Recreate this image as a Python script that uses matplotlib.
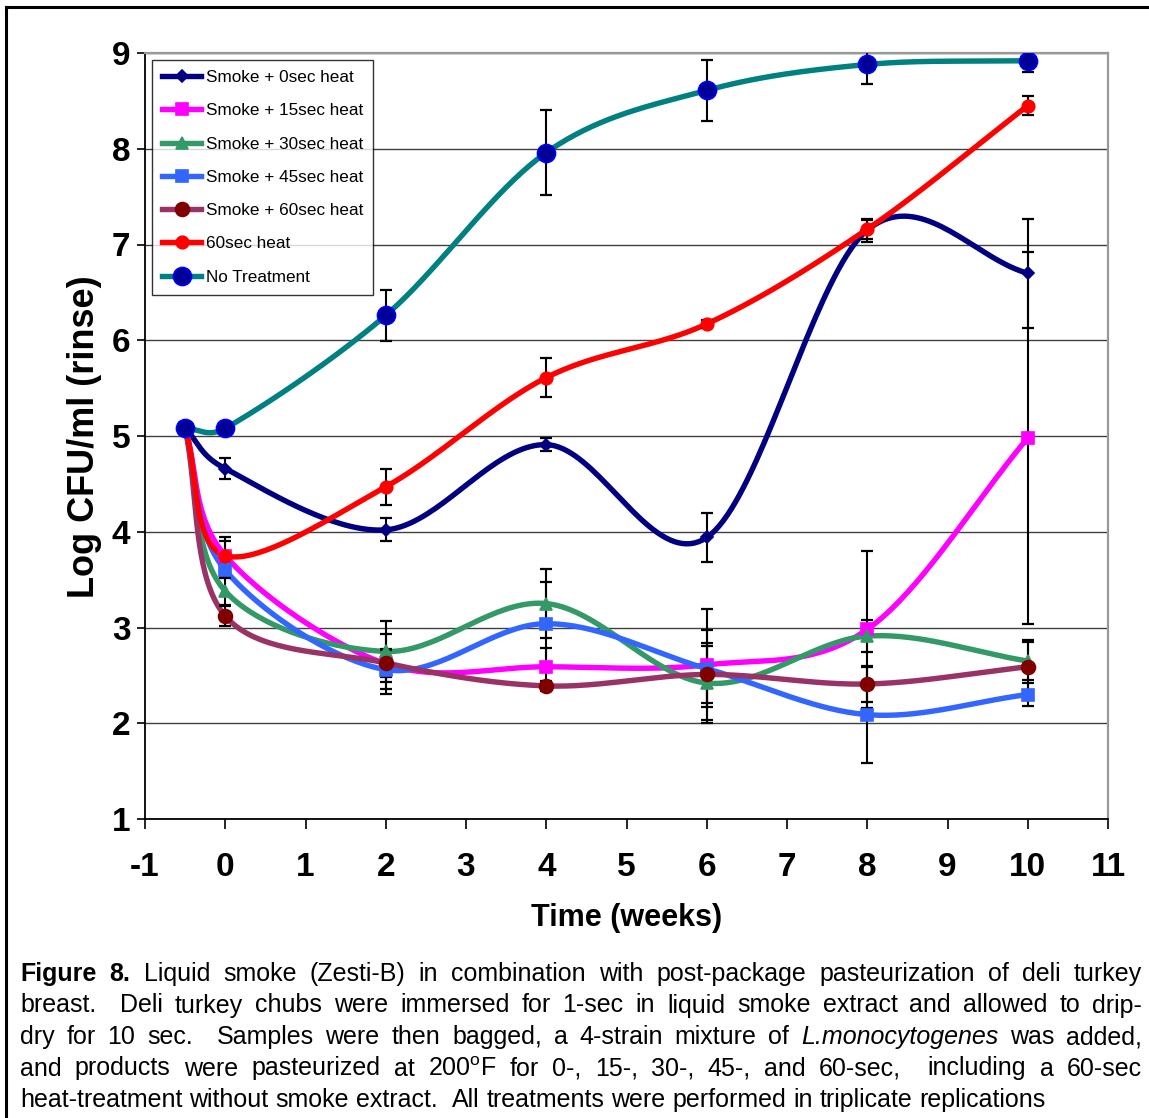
import numpy as np
import matplotlib
matplotlib.use("Agg")
import matplotlib.pyplot as plt
from matplotlib.lines import Line2D
from matplotlib import font_manager as fm

plt.rcParams['font.family'] = ['Liberation Sans', 'DejaVu Sans']
plt.rcParams['mathtext.fontset'] = 'custom'
plt.rcParams['mathtext.rm'] = 'Liberation Sans'
plt.rcParams['mathtext.it'] = 'Liberation Sans:italic'
plt.rcParams['mathtext.bf'] = 'Liberation Sans:bold'

# ---- data ----
weeks = [-0.5, 0, 2, 4, 6, 8, 10]

smoke_0 = [5.08, 4.66, 4.02, 4.91, 3.94, 7.15, 6.70]
smoke_0_err = [0, 0.11, 0.12, 0.07, 0.26, 0.12, 0.57]
smoke_15 = [5.08, 3.75, 2.62, 2.59, 2.61, 2.98, 4.98]
smoke_15_err = [0, 0.19, 0.31, 0.20, 0.58, 0.82, 1.94]
smoke_30 = [5.08, 3.38, 2.75, 3.25, 2.42, 2.91, 2.65]
smoke_30_err = [0, 0.15, 0.32, 0.36, 0.42, 0.17, 0.20]
smoke_45 = [5.08, 3.60, 2.56, 3.04, 2.57, 2.09, 2.30]
smoke_45_err = [0, 0.08, 0.20, 0.44, 0.40, 0.50, 0.12]
smoke_60 = [5.08, 3.12, 2.63, 2.39, 2.51, 2.41, 2.59]
smoke_60_err = [0, 0.10, 0.15, 0.05, 0.30, 0.19, 0.28]
heat_60 = [5.08, 3.75, 4.47, 5.61, 6.17, 7.16, 8.45]
heat_60_err = [0, 0.15, 0.19, 0.20, 0.04, 0.10, 0.10]
no_treat = [5.08, 5.08, 6.26, 7.96, 8.61, 8.88, 8.92]
no_treat_err = [0, 0, 0.27, 0.44, 0.32, 0.20, 0.12]

labels = ['Smoke + 0sec heat', 'Smoke + 15sec heat', 'Smoke + 30sec heat',
          'Smoke + 45sec heat', 'Smoke + 60sec heat', '60sec heat', 'No Treatment']
x_ticks = list(range(-1, 12))
y_ticks = list(range(1, 10))

caption = [
    [("Figure 8.", "bold"), (" Liquid smoke (Zesti-B) in combination with post-package pasteurization of deli turkey", "normal")],
    [("breast.  Deli turkey chubs were immersed for 1-sec in liquid smoke extract and allowed to drip-", "normal")],
    [("dry for 10 sec.  Samples were then bagged, a 4-strain mixture of ", "normal"), ("L.monocytogenes", "italic"), (" was added,", "normal")],
    [("and products were pasteurized at 200$^{\\mathrm{o}}$F for 0-, 15-, 30-, 45-, and 60-sec,  including a 60-sec", "normal")],
    [("heat-treatment without smoke extract.  All treatments were performed in triplicate replications", "normal")],
]

series = [
    (smoke_0, smoke_0_err, '#000080', 'D', 6, '#000080', '#000080'),
    (smoke_15, smoke_15_err, '#FF00FF', 's', 8, '#FF00FF', '#FF00FF'),
    (smoke_30, smoke_30_err, '#339966', '^', 9, '#339966', '#339966'),
    (smoke_45, smoke_45_err, '#3366FF', 's', 8, '#3366FF', '#3366FF'),
    (smoke_60, smoke_60_err, '#993366', 'o', 10, '#800000', '#800000'),
    (heat_60, heat_60_err, '#FF0000', 'o', 9, '#FF0000', '#FF0000'),
    (no_treat, no_treat_err, '#008080', 'o', 13, '#000099', '#0000FF'),
]

names = {f.name for f in fm.fontManager.ttflist}
narrow = 'Liberation Sans Narrow' in names

W, H = 1149, 1118
fig = plt.figure(figsize=(W / 100, H / 100), dpi=100)
ax = fig.add_axes([145 / W, 1 - 819 / H, (1108 - 145) / W, (819 - 53) / H])
ax.set_xlim(-1, 11)
ax.set_ylim(1, 9)


def excel_smooth(xs, ys, n=40):
    # Excel style smoothed line (Bezier through the points), in pixel space
    pts = ax.transData.transform(np.column_stack([xs, ys]))
    out = [pts[0]]
    m = len(pts)
    t = np.linspace(0, 1, n)[1:, None]
    for i in range(m - 1):
        p0 = pts[i - 1] if i > 0 else pts[i]
        p1, p2 = pts[i], pts[i + 1]
        p3 = pts[i + 2] if i + 2 < m else pts[i + 1]
        d12 = np.hypot(*(p2 - p1))
        d02 = np.hypot(*(p2 - p0))
        d13 = np.hypot(*(p3 - p1))
        f0 = 1 / 3 if i == 0 else 1 / 6
        f1 = 1 / 3 if i + 2 >= m else 1 / 6
        if d02 * f0 > d12 / 2:
            f0 = d12 / 2 / d02
        if d13 * f1 > d12 / 2:
            f1 = d12 / 2 / d13
        c1 = p1 + f0 * (p2 - p0)
        c2 = p2 - f1 * (p3 - p1)
        seg = (1 - t) ** 3 * p1 + 3 * (1 - t) ** 2 * t * c1 + 3 * (1 - t) * t ** 2 * c2 + t ** 3 * p2
        out.extend(seg)
    return ax.transData.inverted().transform(np.array(out))


handles = []
for i, (ys, err, lc, mk, ms, mfc, mec) in enumerate(series):
    curve = excel_smooth(weeks, ys)
    ax.plot(curve[:, 0], curve[:, 1], color=lc, lw=3.9, zorder=2 + i * 0.01,
            solid_capstyle='round')
    ex = [x for x, e in zip(weeks, err) if e > 0]
    ey = [y for y, e in zip(ys, err) if e > 0]
    ee = [e for e in err if e > 0]
    ax.errorbar(ex, ey, yerr=ee, fmt='none', ecolor='black', elinewidth=1.5,
                capsize=4.5, capthick=1.6, zorder=3)
    ax.plot(weeks, ys, ls='none', marker=mk, ms=ms, mfc=mfc, mec=mec, mew=1.2,
            zorder=4 + i * 0.01)
    handles.append(Line2D([], [], color=lc, lw=3.9, marker=mk, ms=ms, mfc=mfc,
                          mec=mec, mew=1.2))

ax.set_xticks(x_ticks)
ax.set_yticks(y_ticks)
ax.set_xticklabels([str(v) for v in x_ticks], fontsize=24, fontweight='bold')
ax.set_yticklabels([str(v) for v in y_ticks], fontsize=24, fontweight='bold')
ax.tick_params(axis='x', direction='out', length=7, width=1.2, pad=17)
ax.tick_params(axis='y', direction='out', length=5.5, width=1.2, pad=5)
ax.yaxis.grid(True, color='#404040', lw=1.0)
ax.set_axisbelow(True)
for s in ['left', 'bottom']:
    ax.spines[s].set_color('black')
    ax.spines[s].set_linewidth(1.3)
for s in ['top', 'right']:
    ax.spines[s].set_color('#999999')
    ax.spines[s].set_linewidth(1.6)

if narrow:
    leg_font = dict(family=['Liberation Sans Narrow', 'Liberation Sans'], size=14)
    xl_font = dict(family=['Liberation Sans Narrow', 'Liberation Sans'], size=26)
else:
    leg_font = dict(family=['Liberation Sans'], size=12.3)
    xl_font = dict(family=['Liberation Sans'], size=22)

leg = ax.legend(handles, labels, loc='upper left', bbox_to_anchor=(0, 1),
                prop=leg_font, frameon=True, fancybox=False, shadow=False,
                borderpad=0.6, borderaxespad=0.4, labelspacing=1.07,
                handlelength=2.3, handletextpad=0.25)
leg.get_frame().set_edgecolor('black')
leg.get_frame().set_linewidth(1.0)
leg.set_zorder(10)

fig.text(85 / W, 1 - 437 / H, 'Log CFU/ml (rinse)', rotation=90, ha='center',
         va='center', fontsize=26, fontweight='bold')
fig.text(627 / W, 1 - 918 / H, 'Time (weeks)', ha='center', va='center',
         fontweight='bold', **xl_font)

# outer frame
fig.add_artist(Line2D([6 / W, 6 / W], [0, 1 - 7 / H], transform=fig.transFigure,
                      color='black', lw=2.2))
fig.add_artist(Line2D([6 / W, 1], [1 - 7 / H, 1 - 7 / H], transform=fig.transFigure,
                      color='black', lw=2.2))

# justified caption
cap_size = 18
renderer = fig.canvas.get_renderer()
left_px, right_px = 20, 1142
styles = {'normal': dict(), 'bold': dict(fontweight='bold'), 'italic': dict(fontstyle='italic')}
probe = fig.text(0, 0, 'a a', fontsize=cap_size)
w1 = probe.get_window_extent(renderer).width
probe.set_text('aa')
space_w = w1 - probe.get_window_extent(renderer).width
probe.remove()

for li, line in enumerate(caption):
    tokens = []
    for text, st in line:
        parts = text.split(' ')
        for k, p in enumerate(parts):
            if k > 0:
                tokens.append((None, st))
            if p:
                tokens.append((p, st))
    base_y = 1 - (981 + li * 31.5) / H
    objs = []
    for word, st in tokens:
        if word is None:
            objs.append(None)
        else:
            t = fig.text(0, base_y, word, fontsize=cap_size, va='baseline', ha='left', **styles[st])
            objs.append((t, t.get_window_extent(renderer).width))
    n_gaps = sum(1 for o in objs if o is None)
    words_w = sum(o[1] for o in objs if o is not None)
    gap = space_w
    if li < len(caption) - 1 and n_gaps:
        gap = max(space_w * 0.6, (right_px - left_px - words_w) / n_gaps)
    x = left_px
    for o in objs:
        if o is None:
            x += gap
        else:
            o[0].set_x(x / W)
            x += o[1]

fig.savefig('out.png', dpi=100)
